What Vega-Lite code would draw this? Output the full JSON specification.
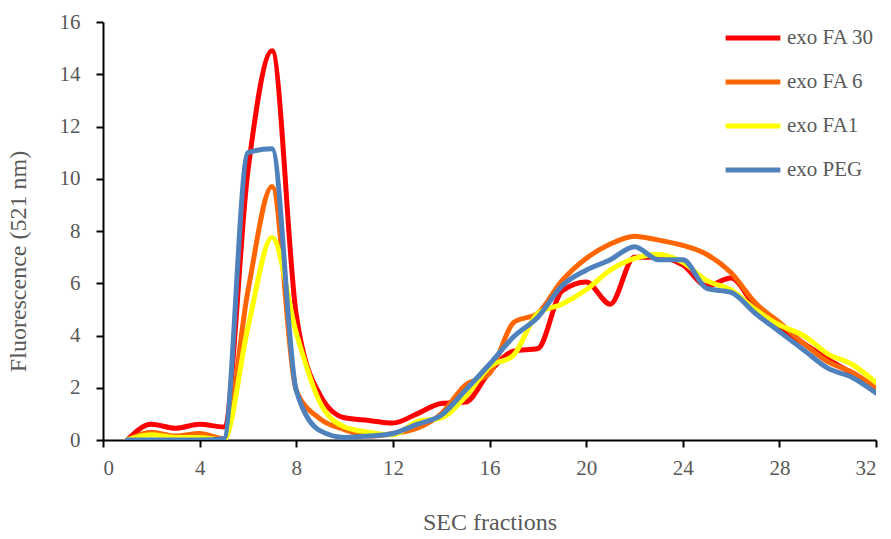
{
  "$schema": "https://vega.github.io/schema/vega-lite/v6.json",
  "width": 773,
  "height": 418,
  "autosize": {"type": "none"},
  "padding": {"left": 103, "top": 22, "right": 15, "bottom": 99},
  "background": "white",
  "config": {
    "view": {"stroke": null},
    "font": "Liberation Serif, DejaVu Serif, serif"
  },
  "data": {
    "values": [
      {"x": 1, "y": 0, "s": "exo FA 30"},
      {"x": 2, "y": 0.6, "s": "exo FA 30"},
      {"x": 3, "y": 0.45, "s": "exo FA 30"},
      {"x": 4, "y": 0.6, "s": "exo FA 30"},
      {"x": 5, "y": 0.5, "s": "exo FA 30"},
      {"x": 6, "y": 10.3, "s": "exo FA 30"},
      {"x": 7, "y": 14.9, "s": "exo FA 30"},
      {"x": 8, "y": 4.8, "s": "exo FA 30"},
      {"x": 9, "y": 1.7, "s": "exo FA 30"},
      {"x": 10, "y": 0.85, "s": "exo FA 30"},
      {"x": 11, "y": 0.75, "s": "exo FA 30"},
      {"x": 12, "y": 0.65, "s": "exo FA 30"},
      {"x": 13, "y": 1.0, "s": "exo FA 30"},
      {"x": 14, "y": 1.4, "s": "exo FA 30"},
      {"x": 15, "y": 1.45, "s": "exo FA 30"},
      {"x": 16, "y": 2.6, "s": "exo FA 30"},
      {"x": 17, "y": 3.4, "s": "exo FA 30"},
      {"x": 18, "y": 3.5, "s": "exo FA 30"},
      {"x": 19, "y": 5.7, "s": "exo FA 30"},
      {"x": 20, "y": 6.05, "s": "exo FA 30"},
      {"x": 21, "y": 5.2, "s": "exo FA 30"},
      {"x": 22, "y": 7.0, "s": "exo FA 30"},
      {"x": 23, "y": 7.0, "s": "exo FA 30"},
      {"x": 24, "y": 6.7, "s": "exo FA 30"},
      {"x": 25, "y": 5.9, "s": "exo FA 30"},
      {"x": 26, "y": 6.2, "s": "exo FA 30"},
      {"x": 27, "y": 5.1, "s": "exo FA 30"},
      {"x": 28, "y": 4.3, "s": "exo FA 30"},
      {"x": 29, "y": 3.7, "s": "exo FA 30"},
      {"x": 30, "y": 3.1, "s": "exo FA 30"},
      {"x": 31, "y": 2.55, "s": "exo FA 30"},
      {"x": 32, "y": 1.9, "s": "exo FA 30"},
      {"x": 1, "y": 0, "s": "exo FA 6"},
      {"x": 2, "y": 0.3, "s": "exo FA 6"},
      {"x": 3, "y": 0.15, "s": "exo FA 6"},
      {"x": 4, "y": 0.25, "s": "exo FA 6"},
      {"x": 5, "y": 0.05, "s": "exo FA 6"},
      {"x": 6, "y": 5.7, "s": "exo FA 6"},
      {"x": 7, "y": 9.7, "s": "exo FA 6"},
      {"x": 8, "y": 1.9, "s": "exo FA 6"},
      {"x": 9, "y": 0.8, "s": "exo FA 6"},
      {"x": 10, "y": 0.4, "s": "exo FA 6"},
      {"x": 11, "y": 0.15, "s": "exo FA 6"},
      {"x": 12, "y": 0.25, "s": "exo FA 6"},
      {"x": 13, "y": 0.45, "s": "exo FA 6"},
      {"x": 14, "y": 1.0, "s": "exo FA 6"},
      {"x": 15, "y": 2.1, "s": "exo FA 6"},
      {"x": 16, "y": 2.55, "s": "exo FA 6"},
      {"x": 17, "y": 4.5, "s": "exo FA 6"},
      {"x": 18, "y": 4.85, "s": "exo FA 6"},
      {"x": 19, "y": 6.1, "s": "exo FA 6"},
      {"x": 20, "y": 6.95, "s": "exo FA 6"},
      {"x": 21, "y": 7.5, "s": "exo FA 6"},
      {"x": 22, "y": 7.8, "s": "exo FA 6"},
      {"x": 23, "y": 7.65, "s": "exo FA 6"},
      {"x": 24, "y": 7.45, "s": "exo FA 6"},
      {"x": 25, "y": 7.1, "s": "exo FA 6"},
      {"x": 26, "y": 6.4, "s": "exo FA 6"},
      {"x": 27, "y": 5.25, "s": "exo FA 6"},
      {"x": 28, "y": 4.5, "s": "exo FA 6"},
      {"x": 29, "y": 3.7, "s": "exo FA 6"},
      {"x": 30, "y": 3.0, "s": "exo FA 6"},
      {"x": 31, "y": 2.6, "s": "exo FA 6"},
      {"x": 32, "y": 2.0, "s": "exo FA 6"},
      {"x": 1, "y": 0, "s": "exo FA1"},
      {"x": 2, "y": 0.2, "s": "exo FA1"},
      {"x": 3, "y": 0.1, "s": "exo FA1"},
      {"x": 4, "y": 0.1, "s": "exo FA1"},
      {"x": 5, "y": 0.0, "s": "exo FA1"},
      {"x": 6, "y": 4.3, "s": "exo FA1"},
      {"x": 7, "y": 7.75, "s": "exo FA1"},
      {"x": 8, "y": 4.1, "s": "exo FA1"},
      {"x": 9, "y": 1.4, "s": "exo FA1"},
      {"x": 10, "y": 0.5, "s": "exo FA1"},
      {"x": 11, "y": 0.3, "s": "exo FA1"},
      {"x": 12, "y": 0.2, "s": "exo FA1"},
      {"x": 13, "y": 0.7, "s": "exo FA1"},
      {"x": 14, "y": 0.85, "s": "exo FA1"},
      {"x": 15, "y": 1.65, "s": "exo FA1"},
      {"x": 16, "y": 2.8, "s": "exo FA1"},
      {"x": 17, "y": 3.25, "s": "exo FA1"},
      {"x": 18, "y": 4.85, "s": "exo FA1"},
      {"x": 19, "y": 5.2, "s": "exo FA1"},
      {"x": 20, "y": 5.75, "s": "exo FA1"},
      {"x": 21, "y": 6.5, "s": "exo FA1"},
      {"x": 22, "y": 6.95, "s": "exo FA1"},
      {"x": 23, "y": 7.1, "s": "exo FA1"},
      {"x": 24, "y": 6.8, "s": "exo FA1"},
      {"x": 25, "y": 6.1, "s": "exo FA1"},
      {"x": 26, "y": 5.75, "s": "exo FA1"},
      {"x": 27, "y": 5.0, "s": "exo FA1"},
      {"x": 28, "y": 4.4, "s": "exo FA1"},
      {"x": 29, "y": 4.0, "s": "exo FA1"},
      {"x": 30, "y": 3.3, "s": "exo FA1"},
      {"x": 31, "y": 2.9, "s": "exo FA1"},
      {"x": 32, "y": 2.2, "s": "exo FA1"},
      {"x": 1, "y": 0, "s": "exo PEG"},
      {"x": 2, "y": 0, "s": "exo PEG"},
      {"x": 3, "y": 0, "s": "exo PEG"},
      {"x": 4, "y": 0, "s": "exo PEG"},
      {"x": 5, "y": 0.05, "s": "exo PEG"},
      {"x": 6, "y": 11.0, "s": "exo PEG"},
      {"x": 7, "y": 11.15, "s": "exo PEG"},
      {"x": 8, "y": 1.9, "s": "exo PEG"},
      {"x": 9, "y": 0.35, "s": "exo PEG"},
      {"x": 10, "y": 0.1, "s": "exo PEG"},
      {"x": 11, "y": 0.15, "s": "exo PEG"},
      {"x": 12, "y": 0.25, "s": "exo PEG"},
      {"x": 13, "y": 0.6, "s": "exo PEG"},
      {"x": 14, "y": 0.95, "s": "exo PEG"},
      {"x": 15, "y": 1.9, "s": "exo PEG"},
      {"x": 16, "y": 2.9, "s": "exo PEG"},
      {"x": 17, "y": 3.95, "s": "exo PEG"},
      {"x": 18, "y": 4.7, "s": "exo PEG"},
      {"x": 19, "y": 5.9, "s": "exo PEG"},
      {"x": 20, "y": 6.5, "s": "exo PEG"},
      {"x": 21, "y": 6.9, "s": "exo PEG"},
      {"x": 22, "y": 7.4, "s": "exo PEG"},
      {"x": 23, "y": 6.9, "s": "exo PEG"},
      {"x": 24, "y": 6.9, "s": "exo PEG"},
      {"x": 25, "y": 5.8, "s": "exo PEG"},
      {"x": 26, "y": 5.65, "s": "exo PEG"},
      {"x": 27, "y": 4.85, "s": "exo PEG"},
      {"x": 28, "y": 4.15, "s": "exo PEG"},
      {"x": 29, "y": 3.45, "s": "exo PEG"},
      {"x": 30, "y": 2.75, "s": "exo PEG"},
      {"x": 31, "y": 2.4, "s": "exo PEG"},
      {"x": 32, "y": 1.8, "s": "exo PEG"}
    ]
  },
  "mark": {"type": "line", "interpolate": "monotone", "strokeWidth": 5, "strokeCap": "round", "strokeJoin": "round", "clip": true},
  "encoding": {
    "x": {
      "field": "x", "type": "quantitative",
      "scale": {"domain": [0, 32], "nice": false, "zero": false},
      "axis": {
        "title": "SEC fractions", "values": [0, 4, 8, 12, 16, 20, 24, 28, 32],
        "grid": false, "domainColor": "black", "domainWidth": 2, "tickColor": "black", "tickWidth": 2, "tickSize": 7,
        "labelFont": "Liberation Serif, DejaVu Serif, serif", "labelFontSize": 21, "labelColor": "#595959", "labelPadding": 10,
        "titleFont": "Liberation Serif, DejaVu Serif, serif", "titleFontSize": 24, "titleFontWeight": "normal", "titleColor": "#595959", "titlePadding": 32
      }
    },
    "y": {
      "field": "y", "type": "quantitative",
      "scale": {"domain": [0, 16], "nice": false},
      "axis": {
        "title": "Fluorescence (521 nm)", "values": [0, 2, 4, 6, 8, 10, 12, 14, 16],
        "grid": false, "domainColor": "black", "domainWidth": 2, "tickColor": "black", "tickWidth": 2, "tickSize": 7,
        "labelFont": "Liberation Serif, DejaVu Serif, serif", "labelFontSize": 21, "labelColor": "#595959", "labelPadding": 16,
        "titleFont": "Liberation Serif, DejaVu Serif, serif", "titleFontSize": 24, "titleFontWeight": "normal", "titleColor": "#595959", "titlePadding": 29, "titleY": 239
      }
    },
    "color": {
      "field": "s", "type": "nominal",
      "scale": {"domain": ["exo FA 30", "exo FA 6", "exo FA1", "exo PEG"], "range": ["#FF0000", "#FF6600", "#FFFF00", "#4F81BD"]},
      "legend": {
        "title": null, "orient": "none", "legendX": 620, "legendY": -14,
        "symbolType": "stroke", "symbolSize": 3000, "symbolStrokeWidth": 5,
        "labelFont": "Liberation Serif, DejaVu Serif, serif", "labelFontSize": 21, "labelColor": "#595959", "labelOffset": 4,
        "rowPadding": 4
      }
    }
  }
}
